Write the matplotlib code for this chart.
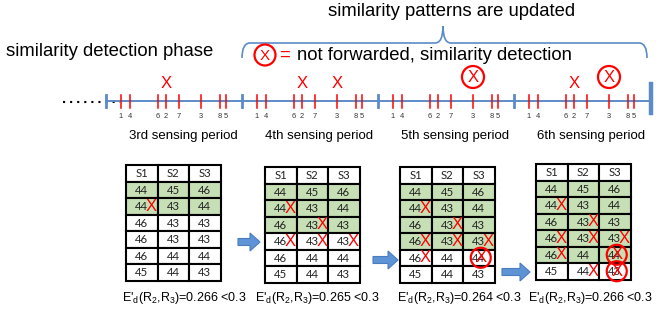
import matplotlib
matplotlib.use("Agg")
import matplotlib.pyplot as plt
from matplotlib.patches import Rectangle, Circle, FancyArrow, PathPatch
from matplotlib.path import Path

plt.rcParams["font.family"] = ["Liberation Sans", "DejaVu Sans"]
plt.rcParams["mathtext.fontset"] = "custom"
plt.rcParams["mathtext.rm"] = "Liberation Sans"
plt.rcParams["mathtext.it"] = "Liberation Sans"

# ---- data ----
periods = ["3rd", "4th", "5th", "6th"]
sensor_order = ["1", "4", "6", "2", "7", "3", "8", "5"]
arrival_times = [15, 24, 52, 60, 73, 95, 114, 120]   # within a 136-unit period
period_len = 136
# (period index, sensor, circled)
timeline_marks = [(0, "2", False), (1, "2", False), (1, "3", False),
                  (2, "3", True), (3, "2", False), (3, "3", True)]

header = ["S1", "S2", "S3"]
table_values = [[44, 45, 46],
                [44, 43, 44],
                [46, 43, 43],
                [46, 43, 43],
                [46, 44, 44],
                [45, 44, 43]]
green_rows = [3, 4, 5, 6]
cell_marks = [
    [(1, 0)],
    [(1, 0), (2, 1), (3, 0), (3, 1), (3, 2)],
    [(1, 0), (2, 1), (3, 0), (3, 1), (3, 2), (4, 0)],
    [(1, 0), (2, 1), (3, 0), (3, 1), (3, 2), (4, 0), (5, 1)],
]
cell_circled = [[], [], [(4, 2)], [(4, 2), (5, 2)]]
ed_values = [0.266, 0.265, 0.264, 0.266]
threshold = 0.3

# ---- layout ----
BLUE = "#5B8BC8"
RED = "#FF0000"
GREEN = "#C6DFB4"
t0 = 106
line_y = 101

fig = plt.figure(figsize=(6.56, 3.14), dpi=100)
ax = fig.add_axes([0, 0, 1, 1])
ax.set_xlim(0, 656)
ax.set_ylim(314, 0)
ax.axis("off")

# titles / legend
ax.text(452, 12, "similarity patterns are updated", fontsize=13.3,
        ha="center", va="center")
ax.text(6, 51, "similarity detection phase", fontsize=13.3, ha="left", va="center")
brace = Path([(242, 58), (242, 43), (250, 43), (435, 43), (443, 43), (443, 26),
              (443, 43), (451, 43), (639, 43), (647, 43), (647, 58)],
             [Path.MOVETO, Path.CURVE3, Path.CURVE3, Path.LINETO, Path.CURVE3,
              Path.CURVE3, Path.CURVE3, Path.CURVE3, Path.LINETO, Path.CURVE3,
              Path.CURVE3])
ax.add_patch(PathPatch(brace, fill=False, edgecolor=BLUE, lw=1.2))


def circled_x(x, y, r=10.5, fs=11):
    ax.add_patch(Circle((x, y), r, fill=False, edgecolor=RED, lw=1.6, zorder=5))
    ax.text(x, y + 0.5, "X", color=RED, fontsize=fs, ha="center", va="center",
            zorder=5)


circled_x(265, 55, r=10.5, fs=11)
ax.text(285, 55, "=", color=RED, fontsize=13.3, ha="center", va="center")
ax.text(297, 55, "not forwarded, similarity detection", fontsize=13.3,
        ha="left", va="center")

# timeline
ax.plot([63, 120], [line_y + 0.5, line_y + 0.5], color="black", lw=1.5,
        ls=(0, (1, 2.4)), zorder=1)
ax.plot([t0, t0 + period_len * len(periods)], [line_y, line_y], color=BLUE,
        lw=1.4, zorder=2)
for i, name in enumerate(periods):
    start = t0 + i * period_len
    ax.plot([start, start], [line_y - 6, line_y + 6], color=BLUE, lw=2, zorder=3)
    for lab, t in zip(sensor_order, arrival_times):
        ax.plot([start + t, start + t], [line_y - 6.5, line_y + 6.5], color=RED,
                lw=1.1, zorder=3)
        ax.text(start + t, 116, lab, fontsize=5.4, ha="center", va="center",
                color="#333333")
    ax.text(start + 77, 136, f"{name} sensing period", fontsize=9.5,
            ha="center", va="center")
end = t0 + period_len * len(periods)
ax.plot([end + 1, end + 1], [line_y - 17, line_y + 12], color=BLUE, lw=3.2,
        zorder=3)
for p, s, circ in timeline_marks:
    x = t0 + p * period_len + arrival_times[sensor_order.index(s)]
    if circ:
        circled_x(x, 77, r=11, fs=12)
    else:
        ax.text(x, 83, "X", color=RED, fontsize=12, ha="center", va="center")

# tables
table_pos = [(126, 165), (265, 167), (400, 167), (536, 164)]
label_x = [122, 255, 397, 528]
cw, rh = 31.5, 16.5
tfont = ["Lato", "DejaVu Sans"]
for k, (tx, ty) in enumerate(table_pos):
    rows = [header] + [[str(v) for v in r] for r in table_values]
    for r, row in enumerate(rows):
        for c, val in enumerate(row):
            fc = GREEN if 1 <= r < green_rows[k] else "white"
            ax.add_patch(Rectangle((tx + c * cw, ty + r * rh), cw, rh,
                                   facecolor=fc, edgecolor="black", lw=1.5))
            ax.text(tx + c * cw + cw / 2, ty + r * rh + rh / 2 + 0.5, val,
                    family=tfont, fontsize=8.2, ha="center", va="center",
                    color="#222222")
    for r, c in cell_marks[k]:
        ax.text(tx + c * cw + cw * 0.8, ty + (r + 1) * rh + rh / 2, "X",
                color=RED, fontsize=12, ha="center", va="center")
    for r, c in cell_circled[k]:
        cx, cy = tx + c * cw + cw / 2 + 2, ty + (r + 1) * rh + rh / 2
        ax.add_patch(Circle((cx, cy), 10, fill=False, edgecolor=RED, lw=1.6,
                            zorder=5))
        ax.text(cx, cy, "X", color=RED, fontsize=12, ha="center", va="center",
                zorder=5)
    ax.text(label_x[k], 298,
            "E'$_{d}$(R$_{2}$,R$_{3}$)=" + f"{ed_values[k]:.3f} <{threshold}",
            fontsize=9.0, ha="left", va="center")

# block arrows between tables
for x0, x1, y in [(238, 260, 242), (373, 398, 260), (502, 530, 272)]:
    ax.add_patch(FancyArrow(x0, y, x1 - x0, 0, width=7, head_width=18,
                            head_length=10, length_includes_head=True,
                            facecolor="#5E93D6", edgecolor="#4A7CC0", lw=0.8))

fig.savefig("out.png", dpi=100)
